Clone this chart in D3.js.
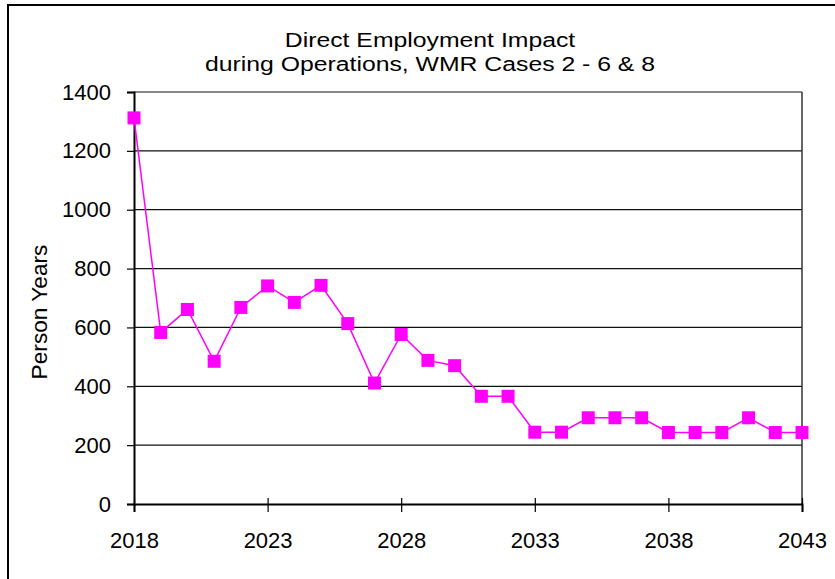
<!DOCTYPE html>
<html>
<head>
<meta charset="utf-8">
<script src="https://cdn.jsdelivr.net/npm/d3@7"></script>
<style>
  body { margin: 0; background: #fff; }
  svg { display: block; font-family: "Liberation Sans", Arial, sans-serif; }
</style>
</head>
<body>
<div id="chart"></div>
<script>
// Data
const years = d3.range(2018, 2044);
const personYears = [
  1312, 583, 661, 485, 668, 741, 685, 743, 613, 411,
  576, 488, 470, 366, 366, 244, 244, 293, 293, 293,
  243, 243, 243, 293, 243, 243
];
const xTicks = [2018, 2023, 2028, 2033, 2038, 2043];
const yTicks = [0, 200, 400, 600, 800, 1000, 1200, 1400];
const titleLines = ["Direct Employment Impact", "during Operations, WMR Cases 2 - 6 & 8"];

const width = 835, height = 579;
const margin = {top: 92, right: 33, bottom: 75, left: 134};

const svg = d3.select("#chart").append("svg")
  .attr("width", width)
  .attr("height", height);

// outer chart frame (runs past the window on right/bottom)
svg.append("rect")
  .attr("x", 8).attr("y", 5)
  .attr("width", 845).attr("height", 600)
  .attr("fill", "#fff")
  .attr("stroke", "#000")
  .attr("stroke-width", 2);

const x = d3.scaleLinear()
  .domain([2018, 2043])
  .range([margin.left, width - margin.right]);

const y = d3.scaleLinear()
  .domain([0, 1400])
  .range([height - margin.bottom, margin.top]);

// gridlines
svg.append("g")
  .selectAll("line")
  .data(yTicks.slice(1))
  .join("line")
  .attr("x1", x(2018)).attr("x2", x(2043))
  .attr("y1", d => y(d)).attr("y2", d => y(d))
  .attr("stroke", "#111")
  .attr("stroke-width", 1.2);

// right border of plot
svg.append("line")
  .attr("x1", x(2043)).attr("x2", x(2043))
  .attr("y1", y(1400)).attr("y2", y(0))
  .attr("stroke", "#333")
  .attr("stroke-width", 1.5);

// y axis
const yAxis = svg.append("g")
  .attr("transform", `translate(${x(2018)},0)`)
  .call(d3.axisLeft(y).tickValues(yTicks).tickFormat(d3.format("d")).tickSize(7).tickPadding(16));
yAxis.select(".domain").attr("stroke", "#000").attr("stroke-width", 2);
yAxis.selectAll(".tick line").attr("stroke", "#000").attr("stroke-width", 1.2);
yAxis.selectAll("text").attr("font-size", 22).attr("fill", "#000").attr("font-family", "Liberation Sans, Arial, sans-serif");

// x axis
const xAxis = svg.append("g")
  .attr("transform", `translate(0,${y(0)})`)
  .call(d3.axisBottom(x).tickValues(xTicks).tickFormat(d3.format("d")).tickSize(8).tickPadding(20));
xAxis.select(".domain").attr("stroke", "#000").attr("stroke-width", 2);
xAxis.selectAll(".tick line").attr("stroke", "#000").attr("stroke-width", 1.2).attr("y1", -6);
xAxis.selectAll("text").attr("font-size", 22).attr("fill", "#000").attr("font-family", "Liberation Sans, Arial, sans-serif");

// series line
const line = d3.line()
  .x((d, i) => x(years[i]))
  .y(d => y(d));

svg.append("path")
  .datum(personYears)
  .attr("d", line)
  .attr("fill", "none")
  .attr("stroke", "#ff00ff")
  .attr("stroke-width", 1.5);

// square markers
const ms = 13;
svg.append("g")
  .selectAll("rect")
  .data(personYears)
  .join("rect")
  .attr("x", (d, i) => x(years[i]) - ms / 2)
  .attr("y", d => y(d) - ms / 2)
  .attr("width", ms).attr("height", ms)
  .attr("fill", "#ff00ff");

// title: glyphs in the original are wider than Liberation Sans, so stretch horizontally
svg.append("g")
  .attr("transform", "translate(430,0) scale(1.18,1)")
  .selectAll("text")
  .data(titleLines)
  .join("text")
  .attr("x", 0)
  .attr("y", (d, i) => 47 + i * 24)
  .attr("text-anchor", "middle")
  .attr("font-size", 21)
  .text(d => d);

// y axis label
svg.append("text")
  .attr("transform", "translate(47,312) rotate(-90) scale(1.03,1)")
  .attr("text-anchor", "middle")
  .attr("font-size", 22)
  .text("Person Years");
</script>
</body>
</html>
